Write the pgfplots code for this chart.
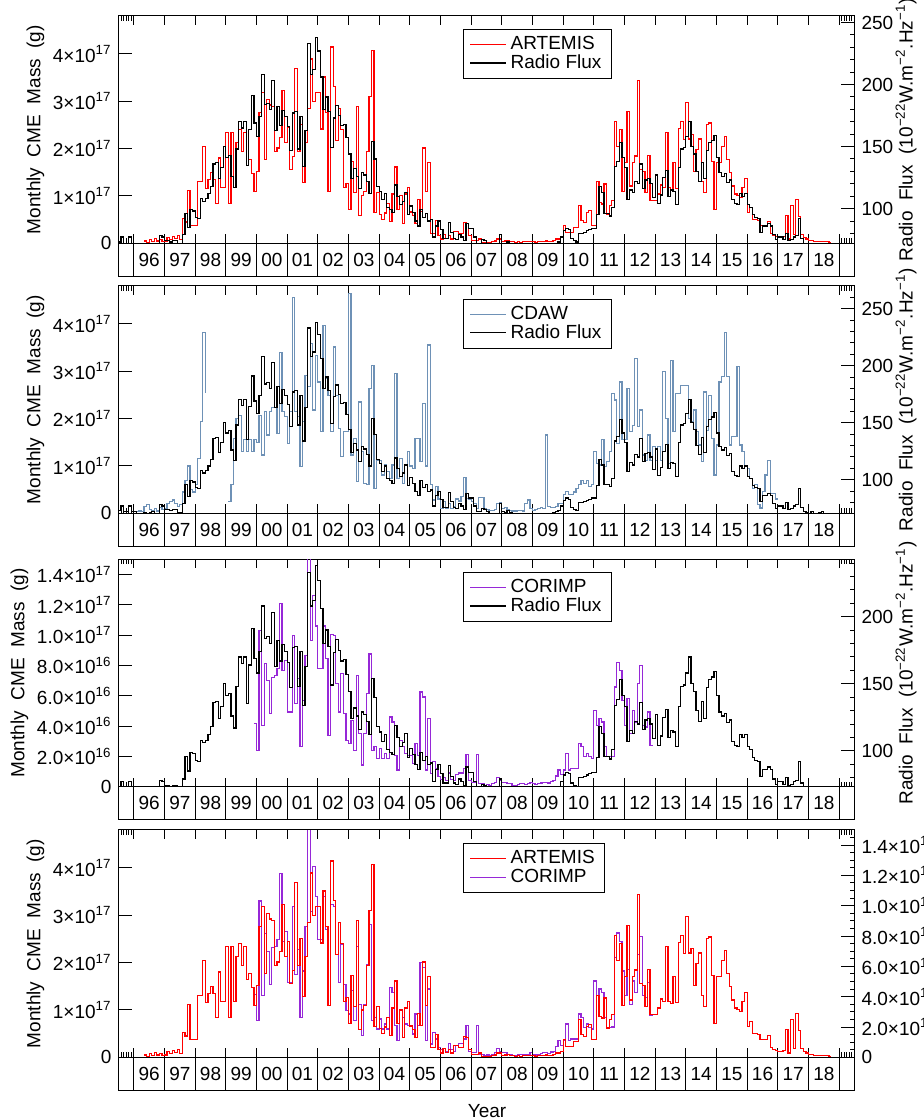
\documentclass[border=0pt]{standalone}
\usepackage{fontspec}
\setmainfont{Liberation Sans}
\usepackage{pgfplots}
\usepackage{pgfplotstable}
\pgfplotsset{compat=1.18}
\definecolor{cdaw}{RGB}{110,145,182}
\definecolor{corimp}{RGB}{150,40,215}
\newcommand\tf{\fontsize{9.5}{11}\selectfont}
\newcommand\lf{\fontsize{9.5}{11}\selectfont}

% Radio flux, monthly, from Jul 1995 (sfu)
\pgfplotstableread[row sep=\\]{
v\\
73\\ 77\\ 72\\ 72\\ 77\\ 72\\
72\\ 69\\ 70\\ 68\\ 71\\ 70\\ 71\\ 72\\ 69\\ 69\\ 78\\ 77\\
74\\ 74\\ 73\\ 74\\ 74\\ 71\\ 71\\ 79\\ 96\\ 85\\ 99\\ 98\\
93\\ 92\\ 108\\ 106\\ 108\\ 112\\ 118\\ 136\\ 137\\ 124\\ 133\\ 150\\
141\\ 143\\ 126\\ 117\\ 148\\ 170\\ 165\\ 170\\ 135\\ 164\\ 191\\ 169\\
158\\ 174\\ 208\\ 184\\ 185\\ 180\\ 203\\ 163\\ 182\\ 167\\ 179\\ 174\\
166\\ 147\\ 177\\ 178\\ 148\\ 174\\ 134\\ 163\\ 233\\ 208\\ 212\\ 238\\
227\\ 206\\ 180\\ 190\\ 178\\ 149\\ 173\\ 183\\ 175\\ 167\\ 168\\ 157\\
144\\ 124\\ 132\\ 126\\ 116\\ 129\\ 127\\ 122\\ 112\\ 154\\ 140\\ 118\\
114\\ 107\\ 112\\ 101\\ 99\\ 97\\ 119\\ 110\\ 103\\ 106\\ 113\\ 95\\
102\\ 97\\ 90\\ 86\\ 99\\ 93\\ 96\\ 90\\ 91\\ 77\\ 86\\ 90\\
83\\ 76\\ 76\\ 89\\ 81\\ 76\\ 75\\ 79\\ 77\\ 74\\ 88\\ 84\\
84\\ 77\\ 72\\ 72\\ 75\\ 74\\ 72\\ 69\\ 67\\ 68\\ 70\\ 79\\
72\\ 71\\ 73\\ 71\\ 69\\ 66\\ 66\\ 67\\ 67\\ 68\\ 69\\ 69\\
70\\ 70\\ 69\\ 69\\ 70\\ 68\\ 68\\ 67\\ 71\\ 72\\ 73\\ 77\\
82\\ 84\\ 83\\ 76\\ 74\\ 73\\ 80\\ 80\\ 81\\ 82\\ 83\\ 84\\
84\\ 95\\ 118\\ 113\\ 96\\ 96\\ 94\\ 101\\ 134\\ 138\\ 153\\ 141\\
133\\ 107\\ 115\\ 113\\ 122\\ 120\\ 136\\ 116\\ 123\\ 124\\ 120\\ 109\\
127\\ 104\\ 111\\ 125\\ 131\\ 110\\ 115\\ 114\\ 103\\ 133\\ 148\\ 149\\
158\\ 170\\ 150\\ 144\\ 130\\ 122\\ 137\\ 124\\ 147\\ 153\\ 155\\ 159\\
141\\ 129\\ 126\\ 128\\ 121\\ 123\\ 107\\ 104\\ 103\\ 112\\ 110\\ 112\\
103\\ 101\\ 95\\ 93\\ 92\\ 81\\ 86\\ 86\\ 88\\ 86\\ 79\\ 75\\
77\\ 77\\ 75\\ 80\\ 74\\ 75\\ 77\\ 78\\ 92\\ 76\\ 72\\ 71\\
70\\ 72\\ 69\\ 70\\ 71\\ 72\\ 70\\ 69\\ 69\\ 69\\ 69\\ 70\\
70\\
}\radio

% ARTEMIS, monthly CME mass (1e17 g), from May 1996
\pgfplotstableread[row sep=\\]{
v\\
0.05\\ 0.02\\ 0.08\\ 0.04\\ 0.10\\ 0.05\\ 0.08\\ 0.04\\
0.05\\ 0.12\\ 0.08\\ 0.15\\ 0.10\\ 0.17\\ 0.08\\ 0.52\\ 0.45\\ 1.12\\ 0.37\\ 0.37\\
0.37\\ 1.31\\ 1.31\\ 2.05\\ 1.15\\ 1.35\\ 1.49\\ 1.35\\ 0.84\\ 1.80\\ 1.18\\ 1.18\\
2.33\\ 0.84\\ 2.33\\ 1.18\\ 2.12\\ 2.40\\ 1.93\\ 2.34\\ 1.64\\ 1.77\\ 1.47\\ 1.10\\
1.52\\ 2.76\\ 3.18\\ 1.77\\ 3.04\\ 2.92\\ 2.88\\ 1.93\\ 2.01\\ 2.24\\ 3.23\\ 2.13\\
2.45\\ 1.56\\ 1.83\\ 3.69\\ 1.94\\ 2.50\\ 1.28\\ 2.13\\ 2.85\\ 3.89\\ 2.99\\ 3.18\\
3.18\\ 2.41\\ 3.51\\ 2.76\\ 1.10\\ 4.14\\ 3.30\\ 2.17\\ 2.84\\ 2.40\\ 1.18\\ 1.27\\
0.72\\ 1.73\\ 1.07\\ 2.88\\ 0.58\\ 1.00\\ 1.10\\ 1.94\\ 3.10\\ 4.07\\ 0.65\\ 1.07\\
0.60\\ 0.51\\ 0.64\\ 0.84\\ 0.46\\ 1.04\\ 1.61\\ 0.72\\ 1.00\\ 0.41\\ 1.04\\ 1.18\\
0.66\\ 0.58\\ 0.41\\ 0.93\\ 0.67\\ 2.01\\ 1.10\\ 1.70\\ 0.20\\ 0.20\\ 0.48\\ 0.16\\
0.09\\ 0.18\\ 0.10\\ 0.16\\ 0.09\\ 0.25\\ 0.25\\ 0.20\\ 0.20\\ 0.44\\ 0.41\\ 0.16\\
0.06\\ 0.06\\ 0.06\\ 0.09\\ 0.02\\ 0.02\\ 0.02\\ 0.02\\ 0.03\\ 0.05\\ 0.09\\ 0.09\\
0.04\\ 0.05\\ 0.06\\ 0.03\\ 0.04\\ 0.02\\ 0.03\\ 0.02\\ 0.03\\ 0.04\\ 0.03\\ 0.04\\
0.03\\ 0.02\\ 0.03\\ 0.04\\ 0.03\\ 0.05\\ 0.04\\ 0.03\\ 0.06\\ 0.09\\ 0.09\\ 0.13\\
0.37\\ 0.23\\ 0.23\\ 0.23\\ 0.34\\ 0.34\\ 0.79\\ 0.48\\ 0.44\\ 0.65\\ 0.69\\ 0.37\\
0.37\\ 1.31\\ 0.86\\ 0.83\\ 1.25\\ 0.62\\ 0.79\\ 0.90\\ 2.57\\ 2.05\\ 2.40\\ 1.10\\
1.70\\ 2.78\\ 1.21\\ 1.70\\ 1.84\\ 3.43\\ 1.56\\ 1.52\\ 1.07\\ 1.86\\ 0.90\\ 0.90\\
0.90\\ 1.04\\ 1.23\\ 1.18\\ 2.33\\ 1.18\\ 1.14\\ 1.70\\ 1.15\\ 2.43\\ 2.57\\ 2.19\\
2.97\\ 2.20\\ 2.29\\ 1.52\\ 1.98\\ 2.20\\ 1.31\\ 1.07\\ 2.50\\ 2.54\\ 1.73\\ 0.72\\
1.70\\ 1.70\\ 2.05\\ 2.26\\ 1.77\\ 1.50\\ 1.21\\ 1.04\\ 1.01\\ 0.97\\ 1.18\\ 1.36\\
0.65\\ 0.76\\ 0.51\\ 0.51\\ 0.48\\ 0.38\\ 0.37\\ 0.37\\ 0.46\\ 0.20\\ 0.16\\ 0.15\\
0.13\\ 0.13\\ 0.15\\ 0.58\\ 0.09\\ 0.79\\ 0.18\\ 0.93\\ 0.57\\ 0.18\\ 0.13\\ 0.09\\
0.06\\ 0.06\\ 0.04\\ 0.04\\ 0.04\\ 0.04\\ 0.03\\ 0.03\\ 0.01\\
0.01\\
}\artemis

% CDAW, monthly CME mass (1e17 g), from Jan 1996
\pgfplotstableread[row sep=\\]{
v\\
0.03\\ 0.03\\ 0.05\\ 0.04\\ 0.15\\ 0.18\\ 0.08\\ 0.05\\ 0.10\\ 0.05\\ 0.12\\ 0.08\\
0.10\\ 0.20\\ 0.25\\ 0.28\\ 0.20\\ 0.15\\ 0.18\\ 0.45\\ 0.70\\ 1.00\\ 0.50\\ 0.45\\
0.60\\ 1.16\\ 1.93\\ 3.81\\ 2.53\\ nan\\ nan\\ nan\\ nan\\ nan\\ nan\\ nan\\
nan\\ 0.25\\ 0.60\\ 1.58\\ 2.00\\ 2.07\\ 1.30\\ 1.55\\ 1.30\\ 1.55\\ 1.30\\ 1.55\\
1.50\\ 2.07\\ 1.23\\ 2.14\\ 1.65\\ 2.14\\ 2.24\\ 2.24\\ 1.68\\ 3.40\\ 2.14\\ 2.05\\
1.48\\ 2.14\\ 4.56\\ 2.14\\ 2.05\\ 0.98\\ 1.93\\ 2.91\\ 2.67\\ 3.58\\ 2.18\\ 3.33\\
2.77\\ 1.72\\ 3.96\\ 2.84\\ 2.49\\ 1.72\\ 3.51\\ 2.49\\ 1.79\\ 1.20\\ 1.72\\ 1.72\\
4.63\\ 1.23\\ 1.58\\ 0.67\\ 2.35\\ 1.30\\ 0.63\\ 0.60\\ 2.63\\ 3.12\\ 0.53\\ 1.12\\
1.12\\ 0.81\\ 1.02\\ 0.88\\ 0.74\\ 1.02\\ 2.95\\ 0.74\\ 1.16\\ 0.63\\ 1.02\\ 1.30\\
1.00\\ 0.95\\ 1.58\\ 1.58\\ 1.10\\ 2.31\\ 1.00\\ 3.55\\ 0.60\\ 0.28\\ 0.56\\ 0.30\\
0.10\\ 0.25\\ 0.10\\ 0.20\\ 0.10\\ 0.15\\ 0.30\\ 0.26\\ 0.35\\ 0.75\\ 0.32\\ 0.30\\
0.25\\ 0.20\\ 0.10\\ 0.33\\ 0.33\\ 0.10\\ 0.08\\ 0.06\\ 0.06\\ 0.08\\ 0.20\\ 0.23\\
0.10\\ 0.12\\ 0.08\\ 0.06\\ 0.05\\ 0.05\\ 0.06\\ 0.06\\ 0.05\\ 0.20\\ 0.28\\ 0.10\\
0.06\\ 0.08\\ 0.10\\ 0.12\\ 0.10\\ 1.65\\ 0.15\\ 0.12\\ 0.12\\ 0.15\\ 0.20\\ 0.20\\
0.40\\ 0.46\\ 0.40\\ 0.39\\ 0.45\\ 0.53\\ 0.60\\ 0.70\\ 0.63\\ 0.70\\ 0.56\\ 0.60\\
1.30\\ 1.05\\ 1.02\\ 1.55\\ 0.98\\ 1.10\\ 1.30\\ 2.53\\ 2.39\\ 1.48\\ 2.77\\ 1.55\\
1.55\\ 2.63\\ 1.72\\ 1.86\\ 3.26\\ 1.83\\ 2.18\\ 1.23\\ 1.12\\ 1.65\\ 1.12\\ 1.41\\
1.12\\ 1.41\\ 1.12\\ 3.00\\ 2.00\\ 1.05\\ 3.23\\ 1.72\\ 2.53\\ 2.53\\ 2.70\\ 2.69\\
2.69\\ 2.00\\ 1.93\\ 2.18\\ 1.72\\ 1.44\\ 1.09\\ 2.56\\ 1.75\\ 2.49\\ 1.58\\ 0.81\\
1.44\\ 2.77\\ 2.88\\ 3.82\\ 2.88\\ 1.44\\ 1.62\\ 1.62\\ 3.09\\ 1.44\\ 1.30\\ 0.98\\
0.95\\ 0.74\\ 0.53\\ 0.60\\ 0.18\\ 0.11\\ 0.46\\ 0.81\\ 1.12\\ 0.42\\ 0.42\\ 0.30\\
0.30\\
}\cdawdata

% CORIMP, monthly CME mass (1e17 g), from Dec 1999
\pgfplotstableread[row sep=\\]{
v\\
0.416\\
0.240\\ 1.030\\ 0.405\\ 0.814\\ 0.700\\ 0.482\\ 0.722\\ 0.733\\ 0.777\\ 1.210\\ 0.766\\ 0.830\\
0.493\\ 0.493\\ 0.995\\ 0.547\\ 0.711\\ 0.263\\ 0.569\\ 0.863\\ 1.550\\ 0.963\\ 1.260\\ 1.060\\
0.777\\ 0.777\\ 1.060\\ 0.843\\ 0.340\\ 1.006\\ 0.995\\ 0.678\\ 0.493\\ 0.744\\ 0.482\\ 0.307\\
0.285\\ 0.438\\ 0.241\\ 0.733\\ 0.350\\ 0.143\\ 0.350\\ 0.613\\ 0.875\\ 0.241\\ 0.263\\ 0.187\\
0.252\\ 0.187\\ 0.219\\ 0.187\\ 0.460\\ 0.427\\ 0.208\\ 0.110\\ 0.307\\ 0.263\\ 0.219\\ 0.208\\
0.208\\ 0.154\\ 0.285\\ 0.208\\ 0.624\\ 0.591\\ 0.110\\ 0.450\\ 0.088\\ 0.165\\ 0.121\\ 0.066\\
0.050\\ 0.060\\ 0.040\\ 0.090\\ 0.050\\ 0.040\\ 0.080\\ 0.090\\ 0.090\\ 0.120\\ 0.210\\ 0.040\\
0.030\\ 0.030\\ 0.210\\ 0.020\\ 0.020\\ 0.010\\ 0.015\\ 0.010\\ 0.020\\ 0.030\\ 0.060\\ 0.040\\
0.030\\ 0.030\\ 0.020\\ 0.020\\ 0.010\\ 0.010\\ 0.015\\ 0.020\\ 0.020\\ 0.015\\ 0.020\\ 0.030\\
0.020\\ 0.015\\ 0.020\\ 0.025\\ 0.030\\ 0.030\\ 0.025\\ 0.035\\ 0.040\\ 0.070\\ 0.110\\ 0.080\\
0.110\\ 0.219\\ 0.110\\ 0.120\\ 0.120\\ 0.120\\ 0.285\\ 0.263\\ 0.198\\ 0.219\\ 0.198\\ 0.187\\
0.503\\ 0.405\\ 0.450\\ 0.427\\ 0.263\\ 0.198\\ 0.198\\ 0.200\\ 0.657\\ 0.820\\ 0.766\\ 0.569\\
0.405\\ 0.580\\ 0.350\\ 0.503\\ 0.427\\ 0.678\\ 0.799\\ 0.405\\ 0.394\\ 0.493\\ 0.274\\
0.274\\
}\corimpdata

\pgfplotsset{
  panel/.style={scale only axis, width=368pt, height=113.75pt, anchor=south west,
    xmin=1995.5, xmax=2019.5, axis line style={line width=0.6pt},
    tick style={black, line width=0.45pt}, tick align=inside,
    major tick length=4.5pt, minor tick length=2.5pt,
    tick label style={font=\tf}, unbounded coords=jump},
  leftax/.style={panel, xtick={1996,...,2019}, xticklabels={}, minor x tick num=11,
    xtick pos=both, ytick pos=left,
    extra x ticks={1995.58333,1995.66667,1995.75,1995.83333,1995.91667,2019.08333,2019.16667,2019.25,2019.33333,2019.41667},
    extra x tick labels={}, extra x tick style={major tick length=2.5pt},
    ytick=\empty, extra y tick style={major tick length=7pt}},
  rightax/.style={panel, axis y line*=right, axis x line=none, major tick length=7pt},
  masstick/.style={ymin=0, ymax=4.8, extra y ticks={0,1,2,3,4},
    extra y tick labels={0,1×10\textsuperscript{17},2×10\textsuperscript{17},3×10\textsuperscript{17},4×10\textsuperscript{17}},
    minor ytick={0.2,0.4,0.6,0.8,1.2,1.4,1.6,1.8,2.2,2.4,2.6,2.8,3.2,3.4,3.6,3.8,4.2,4.4,4.6}},
  radiotick/.style={ytick={100,150,200,250}, yticklabels={100,150,200,250},
    minor ytick={80,90,110,120,130,140,160,170,180,190,210,220,230,240,260}},
  smallminor/.style={minor ytick={0.05,0.1,0.15,0.25,0.3,0.35,0.45,0.5,0.55,0.65,0.7,0.75,0.85,0.9,0.95,1.05,1.1,1.15,1.25,1.3,1.35,1.45}},
  mylegend/.style={legend style={at={(0.468,#1)}, anchor=north west, draw=black,
    line width=0.5pt, font=\lf, fill=white, inner xsep=3pt, inner ysep=1.5pt, row sep=-3pt},
    legend cell align=left,
    legend image code/.code={\path (0pt,0pt) -- (18pt,0pt); \draw[##1, line width=0.6pt] (4pt,0pt) -- (17pt,0pt);}},
  strip/.style={scale only axis, width=368pt, height=16.5pt, anchor=south west,
    xmin=1995.5, xmax=2019.5, ymin=0, ymax=1, xtick={1996,...,2019}, xticklabels={},
    ytick=\empty, major tick length=0pt, xmajorgrids,
    major grid style={black, line width=0.6pt}, axis line style={line width=0.6pt}},
  mline/.style={line width=0.6pt, const plot mark left}
}

\newcommand\yearlabels{%
\node[font=\lf] at (axis cs:1996.5,0.5) {96};
\node[font=\lf] at (axis cs:1997.5,0.5) {97};
\node[font=\lf] at (axis cs:1998.5,0.5) {98};
\node[font=\lf] at (axis cs:1999.5,0.5) {99};
\node[font=\lf] at (axis cs:2000.5,0.5) {00};
\node[font=\lf] at (axis cs:2001.5,0.5) {01};
\node[font=\lf] at (axis cs:2002.5,0.5) {02};
\node[font=\lf] at (axis cs:2003.5,0.5) {03};
\node[font=\lf] at (axis cs:2004.5,0.5) {04};
\node[font=\lf] at (axis cs:2005.5,0.5) {05};
\node[font=\lf] at (axis cs:2006.5,0.5) {06};
\node[font=\lf] at (axis cs:2007.5,0.5) {07};
\node[font=\lf] at (axis cs:2008.5,0.5) {08};
\node[font=\lf] at (axis cs:2009.5,0.5) {09};
\node[font=\lf] at (axis cs:2010.5,0.5) {10};
\node[font=\lf] at (axis cs:2011.5,0.5) {11};
\node[font=\lf] at (axis cs:2012.5,0.5) {12};
\node[font=\lf] at (axis cs:2013.5,0.5) {13};
\node[font=\lf] at (axis cs:2014.5,0.5) {14};
\node[font=\lf] at (axis cs:2015.5,0.5) {15};
\node[font=\lf] at (axis cs:2016.5,0.5) {16};
\node[font=\lf] at (axis cs:2017.5,0.5) {17};
\node[font=\lf] at (axis cs:2018.5,0.5) {18};
}
\newcommand\radiolabel{Radio\ \ Flux\ \ (10\textsuperscript{−22}W.m\textsuperscript{−2}.Hz\textsuperscript{−1})}
\newcommand\masslabel{Monthly\ \ CME\ \ Mass\ \ (g)}

\begin{document}
\begin{tikzpicture}
\useasboundingbox (0,0) rectangle (461.5pt,560pt);

% ---------------- Panel 1 ----------------
\begin{axis}[leftax, masstick, at={(59.25pt,438.35pt)}]
\addplot[red, mline] table[x expr=1996.33333+\coordindex/12, y=v]{\artemis};
\end{axis}
\begin{axis}[rightax, radiotick, at={(59.25pt,438.35pt)}, ymin=72, ymax=255.4, mylegend=0.943]
\addlegendimage{red, line width=0.6pt}\addlegendentry{ARTEMIS}
\addplot[black, mline, skip coords between index={271}{300}] table[x expr=1995.5+\coordindex/12, y=v]{\radio};
\addlegendentry{Radio Flux}
\end{axis}
\begin{axis}[strip, at={(59.25pt,421.85pt)}]
\yearlabels
\end{axis}
\node[rotate=90, font=\lf] at (17.75pt,495.2pt) {\masslabel};
\node[rotate=90, font=\lf] at (453pt,495.2pt) {\radiolabel};

% ---------------- Panel 2 ----------------
\begin{axis}[leftax, masstick, at={(59.25pt,303.35pt)}]
\addplot[cdaw, mline] table[x expr=1996+\coordindex/12, y=v]{\cdawdata};
\end{axis}
\begin{axis}[rightax, radiotick, at={(59.25pt,303.35pt)}, ymin=70.6, ymax=270, mylegend=0.944]
\addlegendimage{cdaw, line width=0.6pt}\addlegendentry{CDAW}
\addplot[black, mline] table[x expr=1995.5+\coordindex/12, y=v]{\radio};
\addlegendentry{Radio Flux}
\end{axis}
\begin{axis}[strip, at={(59.25pt,286.85pt)}]
\yearlabels
\end{axis}
\node[rotate=90, font=\lf] at (17.75pt,360.2pt) {\masslabel};
\node[rotate=90, font=\lf] at (453pt,360.2pt) {\radiolabel};

% ---------------- Panel 3 ----------------
\begin{axis}[leftax, smallminor, at={(59.25pt,166.65pt)}, ymin=0, ymax=1.5,
  extra y ticks={0,0.2,0.4,0.6,0.8,1.0,1.2,1.4},
  extra y tick labels={0,2.0×10\textsuperscript{16},4.0×10\textsuperscript{16},6.0×10\textsuperscript{16},8.0×10\textsuperscript{16},1.0×10\textsuperscript{17},1.2×10\textsuperscript{17},1.4×10\textsuperscript{17}}]
\addplot[corimp, mline] table[x expr=1999.91667+\coordindex/12, y=v]{\corimpdata};
\end{axis}
\begin{axis}[rightax, radiotick, at={(59.25pt,166.65pt)}, ymin=73.3, ymax=242.8, mylegend=0.944]
\addlegendimage{corimp, line width=0.6pt}\addlegendentry{CORIMP}
\addplot[black, mline, skip coords between index={271}{300}] table[x expr=1995.5+\coordindex/12, y=v]{\radio};
\addlegendentry{Radio Flux}
\end{axis}
\begin{axis}[strip, at={(59.25pt,150.15pt)}]
\yearlabels
\end{axis}
\node[rotate=90, font=\lf] at (9.75pt,223.5pt) {\masslabel};
\node[rotate=90, font=\lf] at (453pt,223.5pt) {\radiolabel};

% ---------------- Panel 4 ----------------
\begin{axis}[rightax, smallminor, at={(59.25pt,31.35pt)}, ymin=0, ymax=1.5,
  ytick={0,0.2,0.4,0.6,0.8,1.0,1.2,1.4},
  yticklabels={0,2.0×10\textsuperscript{16},4.0×10\textsuperscript{16},6.0×10\textsuperscript{16},8.0×10\textsuperscript{16},1.0×10\textsuperscript{17},1.2×10\textsuperscript{17},1.4×10\textsuperscript{17}}]
\addplot[corimp, mline] table[x expr=1999.91667+\coordindex/12, y=v]{\corimpdata};
\end{axis}
\begin{axis}[leftax, masstick, at={(59.25pt,31.35pt)}, mylegend=0.941]
\addplot[red, mline] table[x expr=1996.33333+\coordindex/12, y=v]{\artemis};
\addlegendentry{ARTEMIS}
\addlegendimage{corimp, line width=0.6pt}\addlegendentry{CORIMP}
\end{axis}
\begin{axis}[strip, at={(59.25pt,14.85pt)}]
\yearlabels
\end{axis}
\node[rotate=90, font=\lf] at (17.75pt,88.2pt) {\masslabel};
\node[font=\lf] at (243.5pt,4.5pt) {Year};

\end{tikzpicture}
\end{document}
